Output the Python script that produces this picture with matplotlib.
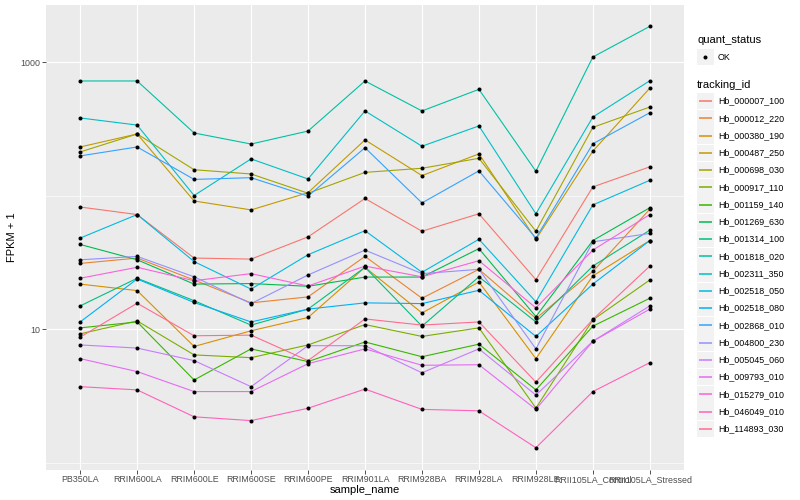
import matplotlib
matplotlib.use('Agg')
import matplotlib.pyplot as plt
from matplotlib.patches import Rectangle
from matplotlib.ticker import FixedLocator, NullFormatter

samples = ["PB350LA", "RRIM600LA", "RRIM600LE", "RRIM600SE", "RRIM600PE",
           "RRIM901LA", "RRIM928BA", "RRIM928LA", "RRIM928LE",
           "RRII105LA_Control", "RRII105LA_Stressed"]

tracking_ids = ["Hb_000007_100", "Hb_000012_220", "Hb_000380_190", "Hb_000487_250",
                "Hb_000698_030", "Hb_000917_110", "Hb_001159_140", "Hb_001269_630",
                "Hb_001314_100", "Hb_001818_020", "Hb_002311_350", "Hb_002518_050",
                "Hb_002518_080", "Hb_002868_010", "Hb_004800_230", "Hb_005045_060",
                "Hb_009793_010", "Hb_015279_010", "Hb_046049_010", "Hb_114893_030"]

colors = ["#F8766D", "#EA8331", "#D89000", "#C09B00", "#A3A500", "#7CAE00",
          "#39B600", "#00BB4E", "#00BF7D", "#00C1A3", "#00BFC4", "#00BAE0",
          "#00B0F6", "#35A2FF", "#9590FF", "#C77CFF", "#E76BF3", "#FA62DB",
          "#FF62BC", "#FF6C91"]

# FPKM + 1 per sample (same order as samples)
hb_000007_100 = [82, 72, 34, 33.4, 49, 95, 54, 73, 23.4, 116, 164]
hb_000012_220 = [31, 34, 23.3, 15.7, 17.4, 35, 17, 28, 12, 27, 79]
hb_000380_190 = [21.7, 19.4, 7.4, 9.7, 12.2, 29, 13.2, 22.5, 6.0, 25, 46]
hb_000487_250 = [231, 289, 91, 78, 105, 261, 141, 205, 47, 215, 638]
hb_000698_030 = [212, 289, 156, 145, 104, 149, 160, 190, 54, 324, 460]
hb_000917_110 = [9.2, 11.5, 6.4, 6.1, 7.6, 10.8, 8.8, 10.2, 2.56, 11.7, 23.3]
hb_001159_140 = [10.2, 11.3, 4.15, 7.1, 5.7, 8.0, 6.2, 7.7, 3.5, 10.5, 17]
hb_001269_630 = [43, 33, 21.7, 21.9, 20.9, 24.5, 24.5, 40, 12.4, 46, 81]
hb_001314_100 = [14.9, 24, 16.3, 10.7, 14.1, 29, 10.5, 24.6, 11.3, 29.6, 55]
hb_001818_020 = [721, 721, 294, 243, 304, 721, 430, 624, 152, 1090, 1850]
hb_002311_350 = [381, 337, 100, 188, 133, 430, 234, 332, 73, 387, 724]
hb_002518_050 = [48, 72, 32, 19.9, 36, 54.5, 26.6, 47, 16, 85, 130]
hb_002518_080 = [11.3, 23.7, 15.8, 11.3, 14.1, 15.7, 15.5, 19.5, 8.8, 21.7, 46]
hb_002868_010 = [198, 231, 132, 136, 99, 228, 88, 153, 48, 244, 417]
hb_004800_230 = [33, 35, 24.6, 15.5, 25.4, 39, 26, 28, 7.1, 45, 52]
hb_005045_060 = [7.6, 7.2, 5.8, 3.7, 7.5, 7.5, 4.7, 7.1, 3.2, 8.1, 14.9]
hb_009793_010 = [6.0, 4.8, 3.4, 3.4, 5.5, 7.1, 5.35, 5.4, 2.5, 8.1, 14.1]
hb_015279_010 = [24, 29, 23, 26, 21, 29.6, 24.6, 32.5, 14.4, 39, 72]
hb_046049_010 = [3.7, 3.5, 2.2, 2.06, 2.55, 3.55, 2.5, 2.44, 1.29, 3.4, 5.6]
hb_114893_030 = [8.7, 15.6, 8.9, 9.0, 5.8, 11.9, 10.7, 11.3, 4.0, 11.8, 29.6]

series = [hb_000007_100, hb_000012_220, hb_000380_190, hb_000487_250,
          hb_000698_030, hb_000917_110, hb_001159_140, hb_001269_630,
          hb_001314_100, hb_001818_020, hb_002311_350, hb_002518_050,
          hb_002518_080, hb_002868_010, hb_004800_230, hb_005045_060,
          hb_009793_010, hb_015279_010, hb_046049_010, hb_114893_030]

y_major = [10, 1000]
y_minor = [1, 100]

FONT = ['Liberation Sans', 'DejaVu Sans']
plt.rcParams['font.family'] = FONT

W, H = 800, 500
fig = plt.figure(figsize=(8, 5), dpi=100)
fig.patch.set_facecolor('white')

pl, pr, pt, pb = 46, 684, 5, 470
ax = fig.add_axes([pl / W, 1 - pb / H, (pr - pl) / W, (pb - pt) / H])
ax.set_facecolor('#EBEBEB')
for s in ax.spines.values():
    s.set_visible(False)

xs = list(range(len(samples)))
for vals, col in zip(series, colors):
    ax.plot(xs, vals, color=col, lw=0.8, zorder=3, solid_capstyle='butt')
for vals in series:
    ax.plot(xs, vals, linestyle='none', marker='o', ms=2.9, color='black',
            markeredgewidth=0, zorder=4)

ax.set_yscale('log')
ax.set_ylim(0.879, 2673)
ax.set_xlim(-0.6, len(samples) - 0.4)

ax.yaxis.set_major_locator(FixedLocator(y_major))
ax.yaxis.set_minor_locator(FixedLocator(y_minor))
ax.yaxis.set_minor_formatter(NullFormatter())
ax.set_yticklabels([str(v) for v in y_major])
ax.set_xticks(xs)
ax.set_xticklabels(samples)

ax.grid(True, which='major', color='white', lw=0.8, zorder=1)
ax.grid(True, which='minor', axis='y', color='white', lw=0.45, zorder=1)
ax.set_axisbelow(True)

ax.tick_params(axis='both', which='major', length=2.7, width=0.6, color='#333333',
               labelsize=6.4, labelcolor='#4D4D4D', pad=1.2)
ax.tick_params(axis='y', which='minor', length=0)

ax.set_xlabel('sample_name', fontsize=8, color='black', labelpad=0.5)
ax.set_ylabel('FPKM + 1', fontsize=8, color='black', labelpad=2.5)

# legend drawn in pixel coordinates
lax = fig.add_axes([0, 0, 1, 1], zorder=5)
lax.set_xlim(0, W)
lax.set_ylim(H, 0)
lax.axis('off')
lax.patch.set_visible(False)

kx, kw = 697, 16.5
tx = 718
lax.text(kx, 40, 'quant_status', fontsize=8, va='center', ha='left')
lax.add_patch(Rectangle((kx, 57 - kw / 2), kw, kw, color='#F2F2F2', lw=0))
lax.plot([kx + kw / 2], [57], marker='o', ms=2.9, color='black', markeredgewidth=0)
lax.text(tx, 57, 'OK', fontsize=6.4, va='center', ha='left')

lax.text(kx, 85, 'tracking_id', fontsize=8, va='center', ha='left')
y0, dy = 101, 17.26
for i, (name, col) in enumerate(zip(tracking_ids, colors)):
    yc = y0 + i * dy
    lax.add_patch(Rectangle((kx, yc - kw / 2), kw, kw, color='#F2F2F2', lw=0))
    lax.plot([kx + 1.5, kx + kw - 1.5], [yc, yc], color=col, lw=1.1,
             solid_capstyle='butt')
    lax.text(tx, yc, name, fontsize=6.4, va='center', ha='left')

fig.savefig('out.png', dpi=100)
